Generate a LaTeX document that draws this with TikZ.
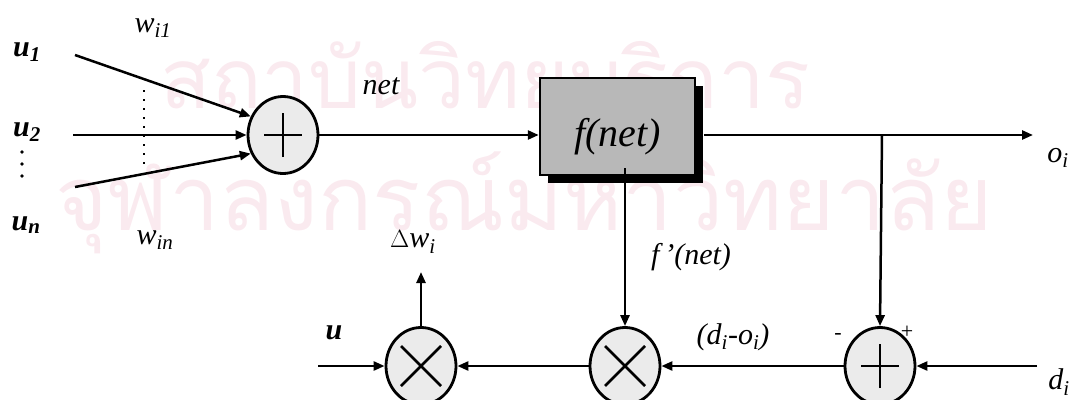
\documentclass[tikz,border=0pt]{standalone}
\usepackage{fontspec}
\setmainfont{Liberation Serif}
\newfontfamily\thaifont[Script=Thai]{Loma}
\usetikzlibrary{arrows.meta,shapes.geometric,shadows}
\definecolor{wm}{RGB}{250,234,239}
\definecolor{dotfill}{gray}{0.92}
\definecolor{boxfill}{gray}{0.72}
\begin{document}
\begin{tikzpicture}[x=1pt,y=-1pt,
  lab/.style={font=\fontsize{30}{32}\selectfont\itshape, inner sep=0pt},
  blab/.style={font=\fontsize{30}{32}\selectfont\itshape\bfseries, inner sep=0pt},
  sgn/.style={font=\fontsize{22}{24}\selectfont, inner sep=0pt},
  wire/.style={line width=2.5pt},
  arr/.style={wire,-{Triangle[length=11pt,width=9pt]}},
  junc/.style={ellipse,draw,line width=2.8pt,fill=dotfill,minimum width=70pt,minimum height=77pt,inner sep=0pt},
  wmark/.style={anchor=base west, inner sep=0pt, text=wm}]
\useasboundingbox (0,0) rectangle (1089,399);
% watermark
\node[wmark] (wm1) at (160,108) {\resizebox{650pt}{!}{\fontsize{120}{120}\thaifont สถาบันวิทยบริการ}};
\node[wmark] (wm2) at (55,230) {\resizebox{938pt}{!}{\fontsize{120}{120}\thaifont จุฬาลงกรณ์มหาวิทยาลัย}};
% nodes
\node[junc] (s1) at (283,135) {};
\node[draw, line width=2.5pt, fill=boxfill, minimum width=155pt, minimum height=97pt, inner sep=0pt,
      drop shadow={shadow xshift=8pt, shadow yshift=-8pt, fill=black, opacity=1},
      label={[lab, font=\fontsize{40}{42}\selectfont\itshape, yshift=-10pt]center:f(net)}] (box) at (617.5,126.5) {};
\node[junc] (m1) at (421,366) {};
\node[junc] (m2) at (625,366) {};
\node[junc] (s2) at (880,366) {};
% symbols inside junctions
\draw[wire] ([xshift=-19pt]s1.center) -- ([xshift=19pt]s1.center);
\draw[wire] ([yshift=-22pt]s1.center) -- ([yshift=22pt]s1.center);
\draw[wire] ([xshift=-19pt]s2.center) -- ([xshift=19pt]s2.center);
\draw[wire] ([yshift=-22pt]s2.center) -- ([yshift=22pt]s2.center);
\foreach \m in {m1,m2}{
  \draw[wire] ([shift={(-20pt,20pt)}]\m.center) -- ([shift={(20pt,-20pt)}]\m.center);
  \draw[wire] ([shift={(-20pt,-20pt)}]\m.center) -- ([shift={(20pt,20pt)}]\m.center);
}
% labels
\node[blab] (u1) at (27,52) {u\textsubscript{1}};
\node[blab] (u2) at (27,132) {u\textsubscript{2}};
\node[blab] (un) at (26,225) {u\textsubscript{n}};
\node[lab] (wi1) at (153,28) {w\textsubscript{i1}};
\node[lab] (win) at (155,240) {w\textsubscript{in}};
\node[lab] (net) at (381,86) {net};
\node[lab] (oi) at (1058,158) {o\textsubscript{i}};
\node[lab] (fp) at (691,257) {f\,'(net)};
\node[lab] (err) at (733,337) {(d\textsubscript{i}-o\textsubscript{i})};
\node[lab] (di) at (1059,382) {d\textsubscript{i}};
\node[blab] (u) at (334,333) {u};
\node[lab] (dw) at (413,242) {$\Delta$w\textsubscript{i}};
\node[sgn] (minus) at (838,336) {-};
\node[sgn] (plus) at (907,332) {+};
% coordinates
\coordinate (i1) at (75,55);
\coordinate (i2) at (73,135);
\coordinate (i3) at (75,187);
\coordinate (dt) at (144,90);
\coordinate (db) at (144,167);
\coordinate (br) at (882,135);
\coordinate (oend) at (1033,135);
\coordinate (dstart) at (1037,366);
\coordinate (ustart) at (318,366);
\coordinate (dwend) at (421,272);
% vertical dots under u2
\foreach \yy in {152,164,176} \fill (22,\yy) circle (1.8pt);
\draw[line width=2.5pt, dash pattern=on 2pt off 7pt] (dt) -- (db);
% connectors
\draw[arr] (i1) -- (s1.150);
\draw[arr] (i2) -- (s1.west);
\draw[arr] (i3) -- (s1.210);
\draw[arr] (s1.east) -- (s1.east -| box.west);
\draw[arr] ([xshift=8pt]box.east |- s1.east) -- (oend);
\draw[arr] (br) -- (s2.north);
\draw[arr] (box.south -| m2.north) ++(0,-8) -- (m2.north);
\draw[arr] (dstart) -- (s2.east);
\draw[arr] (s2.west) -- (m2.east);
\draw[arr] (m2.west) -- (m1.east);
\draw[arr] (ustart) -- (m1.west);
\draw[arr] (m1.north) -- (dwend);
\end{tikzpicture}
\end{document}
